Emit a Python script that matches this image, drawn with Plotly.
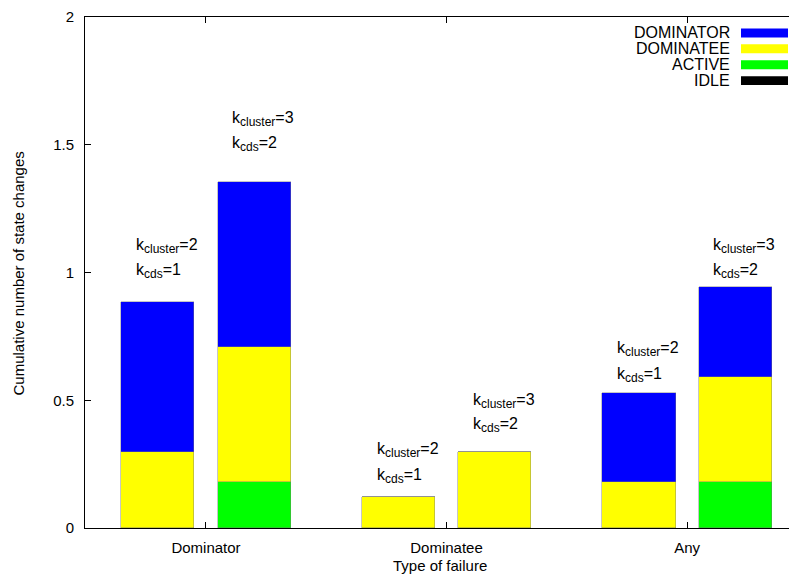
import plotly.graph_objects as go

categories = ["Dominator", "Dominatee", "Any"]

# values per configuration: [Dominator, Dominatee, Any]
idle_k2 = [0.0, 0.0, 0.0]
active_k2 = [0.0, 0.0, 0.0]
dominatee_k2 = [0.296, 0.121, 0.179]
dominator_k2 = [0.587, 0.0, 0.350]

idle_k3 = [0.0, 0.0, 0.0]
active_k3 = [0.179, 0.0, 0.179]
dominatee_k3 = [0.529, 0.296, 0.412]
dominator_k3 = [0.646, 0.0, 0.351]

series_names = ["IDLE", "ACTIVE", "DOMINATEE", "DOMINATOR"]
series_colors = ["#000000", "#00ff00", "#ffff00", "#0000ff"]

SUB = "<sub><span style='font-size:12px'>{}</span></sub>"
label_k2 = ["k" + SUB.format("cluster") + "=2", "k" + SUB.format("cds") + "=1"]
label_k3 = ["k" + SUB.format("cluster") + "=3", "k" + SUB.format("cds") + "=2"]
# label heights (data units) for the two label lines above each bar
label_y_k2 = [(1.105, 1.004), (0.304, 0.202), (0.700, 0.599)]
label_y_k3 = [(1.600, 1.502), (0.498, 0.405), (1.105, 1.004)]

FONT = "Liberation Sans, Arial, sans-serif"
OFFSET = 0.2
WIDTH = 0.304

# figure geometry (page has an 8px body margin)
W, H = 789, 571
L, T, B, R = 77, 6, 51, 0
PW, PH = W - L - R, H - T - B

def px_x(x):
    return (x - L) / PW

def px_y(y):
    return 1 - (y - T) / PH

fig = go.Figure()
xs = list(range(len(categories)))
data_k2 = [idle_k2, active_k2, dominatee_k2, dominator_k2]
data_k3 = [idle_k3, active_k3, dominatee_k3, dominator_k3]
for name, color, v2, v3 in zip(series_names, series_colors, data_k2, data_k3):
    lw = 0 if name == "IDLE" else 0.6
    for xoff, vals in ((-OFFSET, v2), (OFFSET, v3)):
        fig.add_trace(go.Bar(x=[x + xoff for x in xs], y=vals, width=WIDTH, name=name,
                             marker=dict(color=color, line=dict(color="rgba(120,120,120,0.7)", width=lw)),
                             showlegend=False))

annotations = []
for i in xs:
    for lab, ypos, dx in ((label_k2, label_y_k2[i], -OFFSET - 0.1), (label_k3, label_y_k3[i], OFFSET - 0.1)):
        for text, yy in zip(lab, ypos):
            annotations.append(dict(x=i + dx + 0.001, y=yy, xref="x", yref="y", text=text,
                                    showarrow=False, xanchor="left", yanchor="middle",
                                    font=dict(family=FONT, size=16, color="#000")))

# custom legend (text left of swatch, gnuplot style)
shapes = []
legend_order = ["DOMINATOR", "DOMINATEE", "ACTIVE", "IDLE"]
for k, name in enumerate(legend_order):
    color = series_colors[series_names.index(name)]
    yc = 22 + k * 16
    h = 4.5 / PH
    shapes.append(dict(type="rect", xref="paper", yref="paper", x0=px_x(733), x1=px_x(780),
                       y0=px_y(yc) - h, y1=px_y(yc) + h, fillcolor=color, line=dict(width=0)))
    annotations.append(dict(x=px_x(724), y=px_y(yc), xref="paper", yref="paper",
                            text=name, showarrow=False, xanchor="right", yanchor="middle",
                            font=dict(family=FONT, size=16, color="#000")))

# axis titles
annotations.append(dict(x=px_x(10), y=px_y(264), xref="paper", yref="paper",
                        text="Cumulative number of state changes", textangle=-90,
                        showarrow=False, xanchor="center", yanchor="middle",
                        font=dict(family=FONT, size=15, color="#000")))
annotations.append(dict(x=px_x(432), y=px_y(558), xref="paper", yref="paper",
                        text="Type of failure", showarrow=False, xanchor="center", yanchor="middle",
                        font=dict(family=FONT, size=15, color="#000")))

fig.update_layout(
    barmode="stack",
    width=W, height=H,
    margin=dict(l=L, r=R, t=T, b=B, pad=0),
    paper_bgcolor="white", plot_bgcolor="white",
    font=dict(family=FONT, size=15, color="#000"),
    annotations=annotations,
    shapes=shapes,
    showlegend=False,
    bargap=0,
)
fig.update_xaxes(
    range=[-0.503, 2.457], tickvals=xs, ticktext=categories,
    showline=True, linecolor="#000", linewidth=1, mirror="ticks",
    ticks="inside", ticklen=6, tickcolor="#000", showgrid=False, zeroline=False,
    ticklabelstandoff=6, ticklabeloverflow="allow",
)
fig.update_yaxes(
    range=[0, 2], tickvals=[0, 0.5, 1, 1.5, 2], ticktext=["0", "0.5", "1", "1.5", "2"],
    showline=True, linecolor="#000", linewidth=1, mirror=False,
    ticks="inside", ticklen=6, tickcolor="#000", showgrid=False, zeroline=False,
    ticklabelstandoff=7, ticklabeloverflow="allow",
)

fig.write_html("out.html")
